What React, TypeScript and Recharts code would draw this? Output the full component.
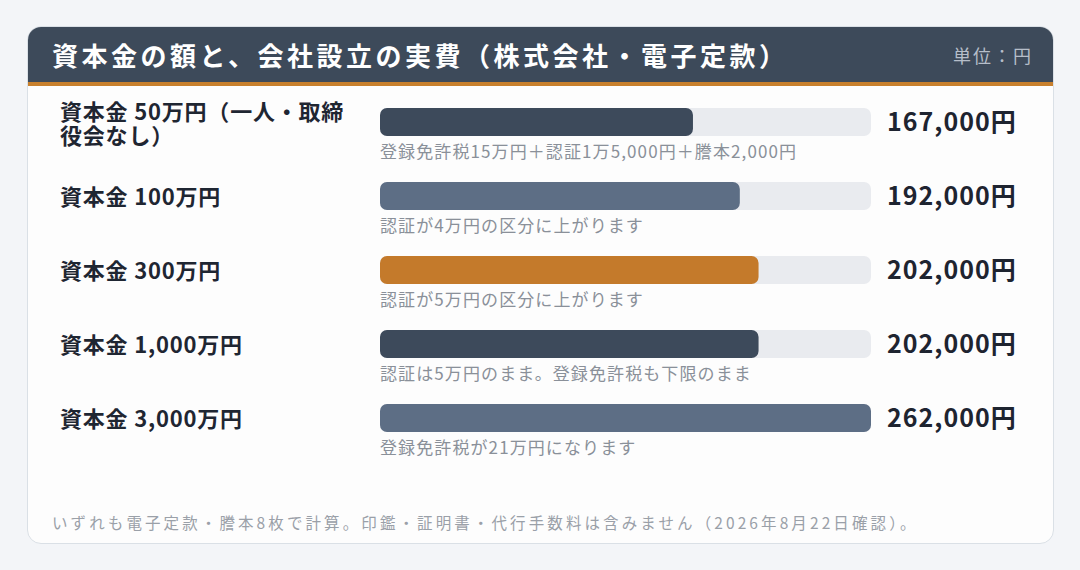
import { BarChart, Bar, Cell, XAxis, YAxis, LabelList } from "recharts";

const categories = [
  "資本金 50万円（一人・取締\n役会なし）",
  "資本金 100万円",
  "資本金 300万円",
  "資本金 1,000万円",
  "資本金 3,000万円",
];
const costs = [167000, 192000, 202000, 202000, 262000];
const notes = [
  "登録免許税15万円＋認証1万5,000円＋謄本2,000円",
  "認証が4万円の区分に上がります",
  "認証が5万円の区分に上がります",
  "認証は5万円のまま。登録免許税も下限のまま",
  "登録免許税が21万円になります",
];
const barColors = ["#3d4a5b", "#5d6e85", "#c47a2b", "#3d4a5b", "#5d6e85"];

const FONT = "'Noto Sans CJK JP', 'Noto Sans', sans-serif";
const MAX = 262000;

const rows = categories.map((label, i) => ({
  label,
  cost: costs[i],
  note: notes[i],
}));

const fmt = (v: number) => v.toLocaleString("en-US") + "円";

function LabelTick(props: any) {
  const { y, payload } = props;
  const lines = String(payload.value).split("\n");
  const first = lines.length > 1 ? y - 2 : y + 9;
  return (
    <g>
      {lines.map((l, i) => (
        <text
          key={i}
          x={60}
          y={first + i * 24}
          fill="#1f2632"
          fontSize={22}
          fontWeight={700}
          fontFamily={FONT}
          letterSpacing={0.8}
        >
          {l}
        </text>
      ))}
    </g>
  );
}

function NoteLabel(props: any) {
  const { x, y, height, value } = props;
  return (
    <text
      x={x}
      y={y + height + 22}
      fill="#8a9099"
      fontSize={17}
      fontFamily={FONT}
      letterSpacing={1.1}
    >
      {value}
    </text>
  );
}

function ValueLabel(props: any) {
  const { y, height, value } = props;
  return (
    <text
      x={887}
      y={y + height / 2 + 9}
      fill="#1e2430"
      fontSize={25}
      fontWeight={700}
      fontFamily={FONT}
      letterSpacing={1}
    >
      {fmt(value)}
    </text>
  );
}

export default function App() {
  return (
    <div
      style={{
        position: "absolute",
        left: 0,
        top: 0,
        width: 1080,
        height: 570,
        background: "#f3f5f8",
        fontFamily: FONT,
        overflow: "hidden",
      }}
    >
      <div
        style={{
          position: "absolute",
          left: 27,
          top: 26,
          width: 1025,
          height: 516,
          background: "#fdfdfd",
          border: "1px solid #dae0e6",
          borderRadius: 14,
          overflow: "hidden",
        }}
      >
        <div
          style={{
            height: 55,
            background: "#3d4a5a",
            borderBottom: "4px solid #c8802d",
            display: "flex",
            alignItems: "center",
            justifyContent: "space-between",
            padding: "0 20px 0 24px",
          }}
        >
          <span style={{ color: "#ffffff", fontSize: 26, fontWeight: 700, letterSpacing: 3.5 }}>
            資本金の額と、会社設立の実費（株式会社・電子定款）
          </span>
          <span style={{ color: "#b6bec9", fontSize: 18, letterSpacing: 2 }}>単位：円</span>
        </div>
        <div
          style={{
            position: "absolute",
            left: 24,
            top: 484,
            color: "#9aa0a8",
            fontSize: 15.5,
            letterSpacing: 3.1,
            whiteSpace: "nowrap",
          }}
        >
          いずれも電子定款・謄本8枚で計算。印鑑・証明書・代行手数料は含みません（2026年8月22日確認）。
        </div>
      </div>
      <div style={{ position: "absolute", left: 0, top: 0 }}>
        <BarChart
          width={1080}
          height={570}
          data={rows}
          layout="vertical"
          margin={{ top: 85, right: 209, bottom: 115, left: 40 }}
        >
          <XAxis type="number" domain={[0, MAX]} hide />
          <YAxis
            type="category"
            dataKey="label"
            width={340}
            axisLine={false}
            tickLine={false}
            tick={<LabelTick />}
          />
          <Bar
            dataKey="cost"
            barSize={28}
            radius={7}
            background={{ fill: "#e9ebef", radius: 7 } as any}
            isAnimationActive={false}
          >
            {rows.map((r, i) => (
              <Cell key={r.label} fill={barColors[i]} />
            ))}
            <LabelList dataKey="note" content={<NoteLabel />} />
            <LabelList dataKey="cost" content={<ValueLabel />} />
          </Bar>
        </BarChart>
      </div>
    </div>
  );
}
